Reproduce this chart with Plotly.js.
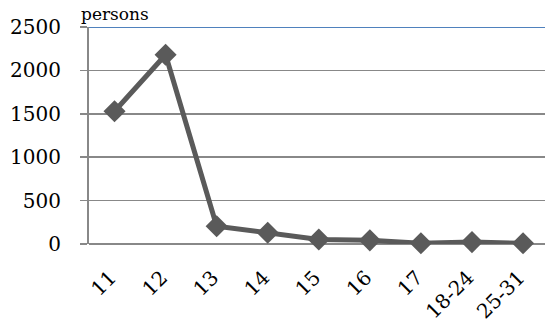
<!DOCTYPE html>
<html>
<head>
<meta charset="utf-8">
<script src="https://cdn.plot.ly/plotly-3.0.1.min.js"></script>
<style>html,body{margin:0;padding:0;background:#fff;}#chart{width:545px;height:322px;}</style>
</head>
<body>
<div id="chart"></div>
<script>
const categories = ["11", "12", "13", "14", "15", "16", "17", "18-24", "25-31"];
const persons = [1530, 2180, 205, 130, 52, 42, 8, 22, 8];
const yTicks = [0, 500, 1000, 1500, 2000, 2500];
const unitLabel = "persons";

const trace = {
  x: categories,
  y: persons,
  type: "scatter",
  mode: "lines+markers",
  line: {color: "#5a5a5a", width: 5},
  marker: {symbol: "diamond", size: 17, color: "#5a5a5a"},
  cliponaxis: false,
  hoverinfo: "skip"
};

const fam = "DejaVu Serif, Liberation Serif, serif";
const font = {family: fam, size: 20, color: "#000"};

const layout = {
  width: 545, height: 322,
  margin: {l: 89, r: 0, t: 26.5, b: 77.5, pad: 0},
  paper_bgcolor: "#fff", plot_bgcolor: "#fff",
  showlegend: false,
  font: font,
  xaxis: {
    type: "category",
    range: [-0.5, 8.43],
    tickangle: -45,
    showgrid: false,
    showline: false,
    ticks: "",
    tickfont: font,
    ticklabelstandoff: 17,
    ticklabelshift: -4,
    zeroline: false
  },
  yaxis: {
    range: [0, 2500],
    tickvals: yTicks,
    ticktext: yTicks.map(String),
    showgrid: true,
    gridcolor: "#888888",
    gridwidth: 1.5,
    zeroline: true,
    zerolinecolor: "#888888",
    zerolinewidth: 1.5,
    showline: true,
    linecolor: "#888888",
    linewidth: 2,
    ticks: "outside",
    ticklen: 7,
    tickcolor: "#888888",
    tickwidth: 1.5,
    ticklabelstandoff: 15,
    tickfont: font
  },
  shapes: [
    {type: "line", xref: "paper", yref: "y", x0: 0, x1: 1, y0: 2500, y1: 2500,
     line: {color: "#4f81bd", width: 2}, layer: "above"}
  ],
  annotations: [
    {text: unitLabel, xref: "paper", yref: "paper", x: -0.022, y: 1.0, xanchor: "left", yanchor: "bottom",
     yshift: 1, showarrow: false, font: {family: fam, size: 17, color: "#000"}}
  ]
};

Plotly.newPlot("chart", [trace], layout, {staticPlot: true, displayModeBar: false});
</script>
</body>
</html>
